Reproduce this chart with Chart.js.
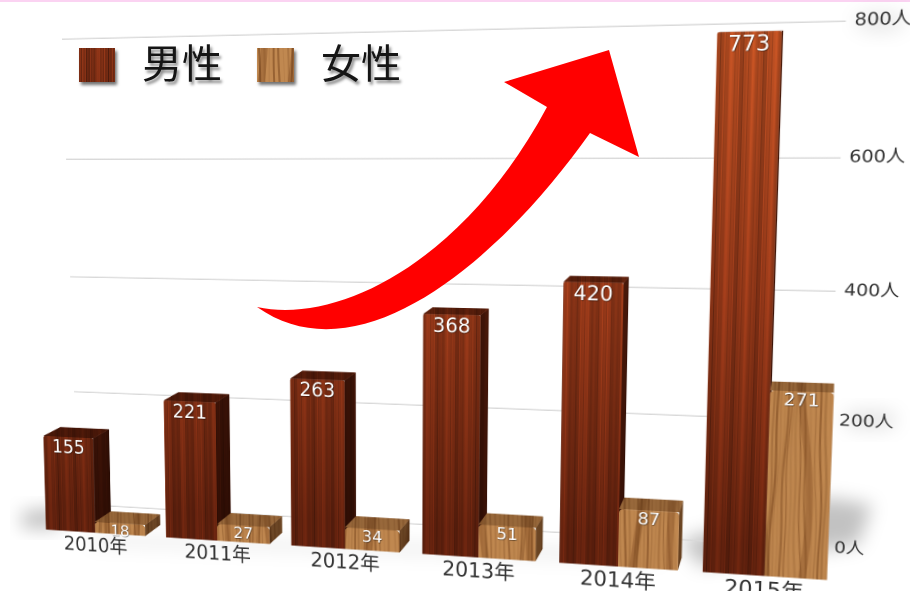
<!DOCTYPE html>
<html lang="ja">
<head>
<meta charset="utf-8">
<title>男性 女性</title>
<script src="https://cdn.jsdelivr.net/npm/chart.js@4"></script>
<style>
  html, body { margin: 0; background: #fff; overflow: hidden; }
  #stage { position: relative; width: 910px; height: 591px; overflow: hidden; background: #fff; }
  #stage canvas.plot { position: absolute; left: 0; top: 0; transform-origin: 0 0; filter: blur(0.35px); }
  #pinkLine { position: absolute; left: 0; top: 0; width: 100%; height: 1.5px; background: #fbd3f2; }
  #floor, #arrow { position: absolute; left: 0; top: 0; }
  .legendBox { position: absolute; box-shadow: 2px 3px 3px rgba(0,0,0,.55); }
  .legendText { position: absolute; top: 37px; font: 400 40px/48px "Noto Sans CJK JP", sans-serif; color: #151515;
    text-shadow: 2px 3px 3px rgba(0,0,0,.45); white-space: nowrap; }
</style>
</head>
<body>
<div id="stage">
  <div id="pinkLine"></div>
  <svg id="floor" width="910" height="591">
    <defs><filter id="soft" x="-30%" y="-60%" width="160%" height="220%"><feGaussianBlur stdDeviation="9"/></filter></defs>
    <polygon points="22,512 60,508 60,528 22,528" fill="rgba(0,0,0,.26)" filter="url(#soft)"/>
    <polygon points="680,540 830,498 872,505 858,545 700,566" fill="rgba(0,0,0,.24)" filter="url(#soft)"/>
    <polygon points="90,535 660,550 660,562 90,545" fill="rgba(0,0,0,.07)" filter="url(#soft)"/>
    <ellipse cx="880" cy="22" rx="26" ry="11" fill="rgba(0,0,0,.08)" filter="url(#soft)"/>
    <ellipse cx="870" cy="420" rx="28" ry="10" fill="rgba(0,0,0,.1)" filter="url(#soft)"/>
  </svg>
  <canvas class="plot" id="wallChart" width="1000" height="640"></canvas>
  <canvas class="plot" id="barChart" width="1000" height="640"></canvas>
  <svg id="arrow" width="910" height="591">
    <path fill="#ff0000" d="M257,307 C340,325 465,260 547,107 L504,82 L609,50 L639,157 L590,133 C500,260 360,380 257,307 Z"/>
  </svg>
  <canvas class="legendBox" id="maleSwatch" width="36" height="34" style="left:79px;top:48px"></canvas>
  <div class="legendText" id="maleText" style="left:142px"></div>
  <canvas class="legendBox" id="femaleSwatch" width="37" height="34" style="left:257px;top:48px"></canvas>
  <div class="legendText" id="femaleText" style="left:321px"></div>
</div>
<script>
const years = ['2010年', '2011年', '2012年', '2013年', '2014年', '2015年'];
const maleValues = [155, 221, 263, 368, 420, 773];
const femaleValues = [18, 27, 34, 51, 87, 271];
const maleLabel = '男性';
const femaleLabel = '女性';
const yTicks = [0, 200, 400, 600, 800];

const FONT = '"DejaVu Sans", "Noto Sans CJK JP", sans-serif';

// where the plot rectangles land on screen: top-left, top-right, bottom-right, bottom-left
const wallQuad = [[62, 39], [846, 21], [826, 548], [78, 504]];
const barQuad = [[22, 30], [862, 9], [840, 581], [36, 529]];

function woodTile(kind) {
  const tile = document.createElement('canvas');
  tile.width = 240;
  tile.height = 640;
  const ctx = tile.getContext('2d');
  if (kind === 'male') {
    for (let x = 0; x < tile.width; x++) {
      const s = Math.sin(x * 0.9) + Math.sin(x * 2.3 + 1) + Math.sin(x * 3.7 + 2) + Math.sin(x * 0.31 + 2) * 1.2;
      const k = 1 + s * 0.085;
      const g = ctx.createLinearGradient(0, 0, 0, tile.height);
      g.addColorStop(0, `rgb(${180 * k},${78 * k},${34 * k})`);
      g.addColorStop(0.5, `rgb(${142 * k},${54 * k},${24 * k})`);
      g.addColorStop(0.9, `rgb(${96 * k},${33 * k},${14 * k})`);
      ctx.fillStyle = g;
      ctx.fillRect(x, 0, 1, tile.height);
    }
  } else {
    ctx.fillStyle = '#c08850';
    ctx.fillRect(0, 0, tile.width, tile.height);
    // wide dark bands, then the fine grain over them
    for (let i = 0; i < 6; i++) {
      ctx.beginPath();
      for (let y = 0; y <= tile.height; y += 6) {
        const x = 20 + i * 40 + 8 * Math.sin(y / 60 + i * 1.3);
        if (y === 0) ctx.moveTo(x, y); else ctx.lineTo(x, y);
      }
      ctx.strokeStyle = 'rgba(120,70,30,.35)';
      ctx.lineWidth = 7;
      ctx.stroke();
    }
    for (let i = 0; i < 60; i++) {
      const x0 = i * 4;
      ctx.beginPath();
      for (let y = 0; y <= tile.height; y += 6) {
        const x = x0 + 3 * Math.sin(y / 80 + i * 0.4) + 0.8 * Math.sin(y / 19 + i);
        if (y === 0) ctx.moveTo(x, y); else ctx.lineTo(x, y);
      }
      ctx.strokeStyle = `rgba(104,56,20,${0.3 + 0.22 * Math.sin(i * 1.7)})`;
      ctx.lineWidth = 0.8 + Math.abs(Math.sin(i * 2.1)) * 1.4;
      ctx.stroke();
    }
  }
  return tile;
}

const maleTile = woodTile('male');
const femaleTile = woodTile('female');
const stageCtx = document.createElement('canvas').getContext('2d');
const malePattern = stageCtx.createPattern(maleTile, 'repeat');
const femalePattern = stageCtx.createPattern(femaleTile, 'repeat');

// 3D faces: each corner runs a little toward a vanishing point near the top right
const depth3d = {
  id: 'depth3d',
  beforeDatasetsDraw(chart) {
    const ctx = chart.ctx;
    const vx = chart.scales.x.left + (chart.scales.x.right - chart.scales.x.left) * 0.98;
    const vy = chart.scales.y.getPixelForValue(785);
    const back = (x, y) => [x + (vx - x) * 0.025, y + (vy - y) * 0.025];
    [0, 1].forEach((index) => {
      const pattern = index === 0 ? malePattern : femalePattern;
      const sideShade = index === 0 ? 'rgba(20,4,0,.62)' : 'rgba(40,18,4,.55)';
      const topShade = index === 0 ? 'rgba(30,6,0,.5)' : 'rgba(50,24,6,.28)';
      chart.getDatasetMeta(index).data.forEach((bar) => {
        const l = bar.x - bar.width / 2;
        const r = bar.x + bar.width / 2;
        const t = bar.y;
        const b = bar.base;
        const poly = (pts, shade) => {
          ctx.beginPath();
          pts.forEach((p, i) => (i ? ctx.lineTo(p[0], p[1]) : ctx.moveTo(p[0], p[1])));
          ctx.closePath();
          ctx.fillStyle = pattern;
          ctx.fill();
          ctx.fillStyle = shade;
          ctx.fill();
        };
        poly([[r, t], back(r, t), back(r, b), [r, b]], sideShade);
        poly([[l, t], back(l, t), back(r, t), [r, t]], topShade);
      });
    });
  },
  afterDatasetsDraw(chart) {
    const ctx = chart.ctx;
    ctx.save();
    ctx.textAlign = 'center';
    ctx.textBaseline = 'middle';
    chart.data.datasets.forEach((ds, i) => {
      chart.getDatasetMeta(i).data.forEach((bar, j) => {
        ctx.font = `${i === 0 ? 21 : 18}px ${FONT}`;
        ctx.fillStyle = '#fff';
        ctx.shadowColor = 'rgba(0,0,0,.7)';
        ctx.shadowBlur = 2;
        ctx.shadowOffsetX = 1;
        ctx.shadowOffsetY = 1;
        ctx.fillText(ds.data[j], bar.x, bar.y + (i === 0 ? 13 : 10));
      });
    });
    ctx.restore();
  }
};

function perspective(canvas, area, quad) {
  const [p0, p1, p2, p3] = quad;
  const dx1 = p1[0] - p2[0], dx2 = p3[0] - p2[0], sx = p0[0] - p1[0] + p2[0] - p3[0];
  const dy1 = p1[1] - p2[1], dy2 = p3[1] - p2[1], sy = p0[1] - p1[1] + p2[1] - p3[1];
  const det = dx1 * dy2 - dx2 * dy1;
  const g = (sx * dy2 - dx2 * sy) / det;
  const h = (dx1 * sy - sx * dy1) / det;
  const a = p1[0] - p0[0] + g * p1[0], b = p3[0] - p0[0] + h * p3[0], c = p0[0];
  const d = p1[1] - p0[1] + g * p1[1], e = p3[1] - p0[1] + h * p3[1], f = p0[1];
  const L = area.left, T = area.top, W = area.right - area.left, H = area.bottom - area.top;
  const m = [
    a / W, d / W, 0, g / W,
    b / H, e / H, 0, h / H,
    0, 0, 1, 0,
    c - a * L / W - b * T / H, f - d * L / W - e * T / H, 0, 1 - g * L / W - h * T / H
  ];
  canvas.style.transform = `matrix3d(${m.join(',')})`;
}

const wallCanvas = document.getElementById('wallChart');
const wallChart = new Chart(wallCanvas, {
  type: 'bar',
  data: { labels: years, datasets: [{ label: maleLabel, data: maleValues, backgroundColor: 'transparent' }] },
  options: {
    responsive: false,
    animation: false,
    devicePixelRatio: 2,
    layout: { padding: { left: 60, right: 40, top: 40, bottom: 40 } },
    plugins: { legend: { display: false }, tooltip: { enabled: false } },
    scales: {
      x: { display: false },
      y: {
        position: 'right',
        min: 0,
        max: 800,
        afterBuildTicks: (axis) => { axis.ticks = yTicks.map((value) => ({ value })); },
        grid: { color: '#d9d9d9', lineWidth: 1.5, drawTicks: false },
        border: { display: false },
        ticks: { padding: 8, color: '#333', font: { family: FONT, size: 18 }, callback: (v) => `${v}人` }
      }
    }
  }
});
perspective(wallCanvas, wallChart.chartArea, wallQuad);

const barCanvas = document.getElementById('barChart');
const barChart = new Chart(barCanvas, {
  type: 'bar',
  data: {
    labels: years,
    datasets: [
      { label: maleLabel, data: maleValues, backgroundColor: malePattern, borderRadius: 2 },
      { label: femaleLabel, data: femaleValues, backgroundColor: femalePattern, borderRadius: 4 }
    ]
  },
  plugins: [depth3d],
  options: {
    responsive: false,
    animation: false,
    devicePixelRatio: 2,
    layout: { padding: { left: 60, right: 60, top: 40, bottom: 10 } },
    plugins: { legend: { display: false }, tooltip: { enabled: false } },
    datasets: { bar: { categoryPercentage: 0.83, barPercentage: 1 } },
    scales: {
      x: {
        z: 2,
        grid: { display: false },
        border: { display: false },
        ticks: { padding: -5, color: '#333', maxRotation: 0, font: { family: FONT, size: 22 } }
      },
      y: { display: false, min: 0, max: 800 }
    }
  }
});
perspective(barCanvas, barChart.chartArea, barQuad);

function paintSwatch(id, tile) {
  const canvas = document.getElementById(id);
  canvas.getContext('2d').drawImage(tile, 60, 420, canvas.width, canvas.height, 0, 0, canvas.width, canvas.height);
}
paintSwatch('maleSwatch', maleTile);
paintSwatch('femaleSwatch', femaleTile);
document.getElementById('maleText').textContent = maleLabel;
document.getElementById('femaleText').textContent = femaleLabel;
</script>
</body>
</html>
